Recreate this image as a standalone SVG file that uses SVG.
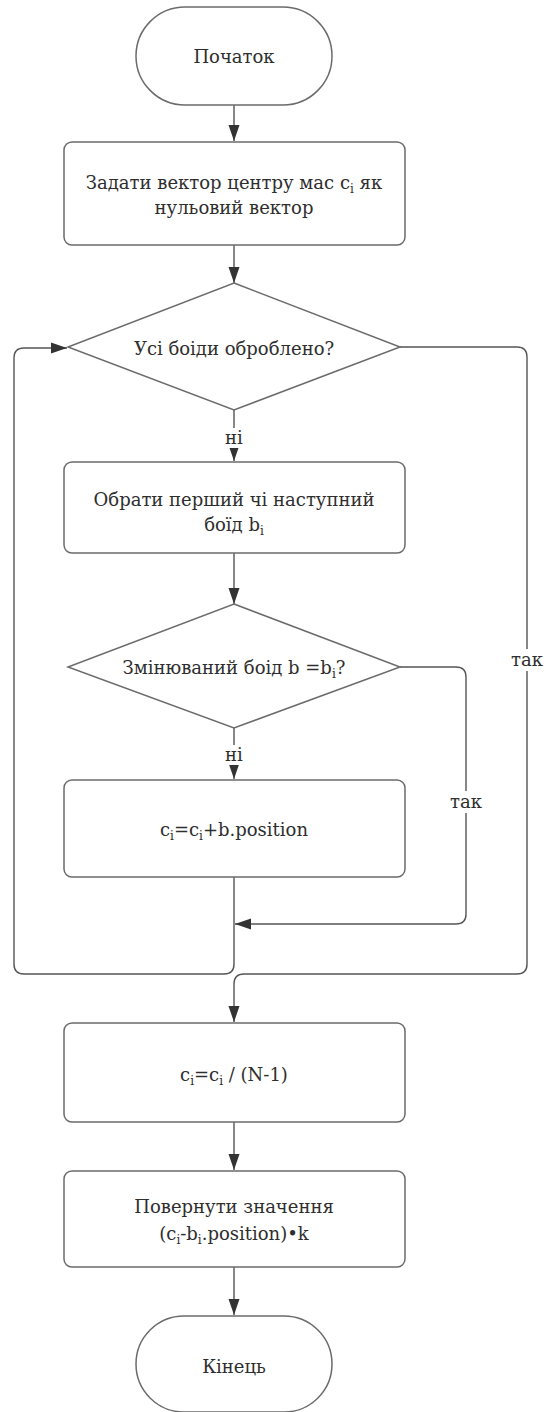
<svg xmlns="http://www.w3.org/2000/svg" width="550" height="1412" viewBox="0 0 550 1412">
  <style>
    .shape { fill: #ffffff; stroke: #6b6b6b; stroke-width: 1.5; }
    .link { fill: none; stroke: #555555; stroke-width: 1.4; }
    .txt { font-family: "DejaVu Serif", "Liberation Serif", serif; font-size: 18px; fill: #2e2e2e; text-anchor: middle; }
    .sub { font-size: 12px; }
    .lbl-bg { fill: #ffffff; }
  </style>
  <defs>
    <marker id="arrow" markerUnits="userSpaceOnUse" markerWidth="17" markerHeight="12" refX="16" refY="6" orient="auto">
      <path d="M0,0.5 L16,6 L0,11.5 z" fill="#333333"/>
    </marker>
  </defs>

  <rect width="550" height="1412" fill="#ffffff"/>

  <!-- connectors -->
  <g id="connectors">
    <path class="link" d="M234 105 V141" marker-end="url(#arrow)"/>
    <path class="link" d="M234 245 V283" marker-end="url(#arrow)"/>
    <path class="link" d="M234 410 V461" marker-end="url(#arrow)"/>
    <path class="link" d="M234 553 V604" marker-end="url(#arrow)"/>
    <path class="link" d="M234 728 V779" marker-end="url(#arrow)"/>
    <!-- yes branch of the inner decision back to the loop -->
    <path class="link" d="M400 667 H456 Q466 667 466 677 V914 Q466 924 456 924 H235" marker-end="url(#arrow)"/>
    <!-- loop back to the outer decision -->
    <path class="link" d="M234 877 V964 Q234 974 224 974 H24 Q14 974 14 964 V358 Q14 348 24 348 H67" marker-end="url(#arrow)"/>
    <!-- yes branch of the outer decision -->
    <path class="link" d="M400 347 H517 Q527 347 527 357 V964 Q527 974 517 974 H244 Q234 974 234 984 V1022" marker-end="url(#arrow)"/>
    <path class="link" d="M234 1122 V1170" marker-end="url(#arrow)"/>
    <path class="link" d="M234 1267 V1315" marker-end="url(#arrow)"/>

    <!-- branch labels -->
    <rect class="lbl-bg" x="222" y="428" width="24" height="20"/>
    <text class="txt" x="234" y="444">ні</text>
    <rect class="lbl-bg" x="222" y="745" width="24" height="20"/>
    <text class="txt" x="234" y="761">ні</text>
    <rect class="lbl-bg" x="448" y="791" width="36" height="22"/>
    <text class="txt" x="466" y="808">так</text>
    <rect class="lbl-bg" x="509" y="649" width="36" height="22"/>
    <text class="txt" x="527" y="666">так</text>
  </g>

  <g id="start">
    <rect class="shape" x="136" y="7" width="196" height="98" rx="49"/>
    <text class="txt" x="234" y="63">Початок</text>
  </g>

  <g id="init-center">
    <rect class="shape" x="64" y="142" width="341" height="103" rx="8"/>
    <text class="txt" x="234" y="189">Задати вектор центру мас c<tspan class="sub" dy="4">i</tspan><tspan dy="-4"> як</tspan></text>
    <text class="txt" x="234" y="214">нульовий вектор</text>
  </g>

  <g id="all-processed">
    <path class="shape" d="M234 283 L400 347 L234 410 L68 347 Z"/>
    <text class="txt" x="234" y="355">Усі боіди оброблено?</text>
  </g>

  <g id="pick-boid">
    <rect class="shape" x="64" y="462" width="341" height="91" rx="8"/>
    <text class="txt" x="234" y="506">Обрати перший чі наступний</text>
    <text class="txt" x="234" y="531">боїд b<tspan class="sub" dy="4">i</tspan></text>
  </g>

  <g id="same-boid">
    <path class="shape" d="M234 604 L400 667 L234 728 L68 667 Z"/>
    <text class="txt" x="234" y="674">Змінюваний боід b =b<tspan class="sub" dy="4">i</tspan><tspan dy="-4">?</tspan></text>
  </g>

  <g id="accumulate">
    <rect class="shape" x="64" y="780" width="341" height="97" rx="8"/>
    <text class="txt" x="234" y="836">c<tspan class="sub" dy="4">i</tspan><tspan dy="-4">=c</tspan><tspan class="sub" dy="4">i</tspan><tspan dy="-4">+b.position</tspan></text>
  </g>

  <g id="average">
    <rect class="shape" x="64" y="1023" width="341" height="99" rx="8"/>
    <text class="txt" x="234" y="1081">c<tspan class="sub" dy="4">i</tspan><tspan dy="-4">=c</tspan><tspan class="sub" dy="4">i</tspan><tspan dy="-4"> / (N-1)</tspan></text>
  </g>

  <g id="return-value">
    <rect class="shape" x="64" y="1171" width="341" height="96" rx="8"/>
    <text class="txt" x="234" y="1213">Повернути значення</text>
    <text class="txt" x="234" y="1240">(c<tspan class="sub" dy="4">i</tspan><tspan dy="-4">-b</tspan><tspan class="sub" dy="4">i</tspan><tspan dy="-4">.position)•k</tspan></text>
  </g>

  <g id="end">
    <rect class="shape" x="136" y="1316" width="196" height="96" rx="48"/>
    <text class="txt" x="234" y="1373">Кінець</text>
  </g>
</svg>
